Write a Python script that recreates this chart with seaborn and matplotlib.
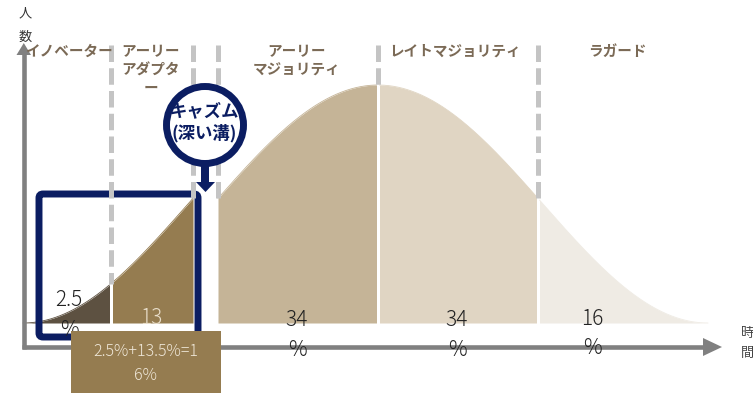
import numpy as np
import pandas as pd
import matplotlib
matplotlib.use("Agg")
import matplotlib.pyplot as plt
import seaborn as sns
from matplotlib.patches import FancyBboxPatch, Rectangle, Circle, Polygon

# ---------------- data ----------------
categories = ["イノベーター", "アーリーアダプター", "アーリーマジョリティ", "レイトマジョリティ", "ラガード"]
category_lines = ["イノベーター", "アーリー\nアダプタ\nー", "アーリー\nマジョリティ", "レイトマジョリティ", "ラガード"]
shares = [2.5, 13.5, 34, 34, 16]
share_text = ["2.5\n%", "13", "34\n%", "34\n%", "16\n%"]
seg_colors = ["#5d5141", "#957c50", "#c5b497", "#e0d5c3", "#efebe4"]
share_colors = ["#222222", "#e8ddc9", "#222222", "#222222", "#222222"]
chasm_title = "キャズム"
chasm_sub = "(深い溝)"
y_axis_label = ["人", "数"]
x_axis_label = ["時", "間"]
sum_text = f"{shares[0]:g}%+{shares[1]:g}%={shares[0] + shares[1]:g}%"

# ---------------- layout (pixel space) ----------------
W, H = 753, 393
base_y = 323
peak_h = 238
center_x = 378
half_w = 330
chasm_gap = 25
edges = [48, 136, 218, 378, 538, 708]        # segment edges before chasm shift
shifted = [True, True, False, False, False]
label_x = [69, 151, 297, 455, 617]
pct_x = [69, 151, 297, 457, 592]
pct_y = [300, 318, 320, 320, 319]

NAVY = "#0b1d62"
GRAY = "#808080"
DASH = "#c4c4c4"
LABEL = "#7b6a56"

sns.set_theme(style="white")
plt.rcParams["font.family"] = ["Noto Sans CJK JP", "DejaVu Sans"]

fig = plt.figure(figsize=(W / 100, H / 100), dpi=100)
ax = fig.add_axes([0, 0, 1, 1])


def curve_y(x):
    return base_y - peak_h * (1 + np.cos(np.pi * (x - center_x) / half_w)) / 2


# build curve table
rows = []
for i, cat in enumerate(categories):
    a, b = edges[i], edges[i + 1]
    if i == 0:
        b -= 1.5
    if i == 1:
        a += 1.5
    if i == 2:
        b -= 1.5
    if i == 3:
        a += 1.5
        b -= 1.5
    if i == 4:
        a += 1.5
    xs = np.linspace(a, b, 200)
    ys = curve_y(xs)
    off = chasm_gap if shifted[i] else 0
    for xv, yv in zip(xs - off, ys):
        rows.append({"x": xv, "y": yv, "seg": cat})
df = pd.DataFrame(rows)

for i, cat in enumerate(categories):
    d = df[df.seg == cat]
    ax.fill_between(d.x, d.y, base_y, color=seg_colors[i], lw=0, zorder=1)
sns.lineplot(data=df, x="x", y="y", hue="seg", palette=seg_colors, legend=False,
             ax=ax, lw=0.6, zorder=1.2, sort=False)
ax.set_xlim(0, W)
ax.set_ylim(H, 0)
ax.axis("off")

# dashed guide lines
dash_pts = [(edges[1] - chasm_gap, curve_y(edges[1])),
            (edges[2] - chasm_gap + 0.5, curve_y(edges[2])),
            (edges[2], curve_y(edges[2])),
            (edges[3], curve_y(edges[3])),
            (edges[4], curve_y(edges[4]))]
for xd, yd in dash_pts:
    ax.plot([xd, xd], [45, yd], color=DASH, lw=3.6, linestyle=(0, (3.3, 1.25)),
            solid_capstyle="butt", dash_capstyle="butt", zorder=3)

# navy frame around innovators + early adopters
ax.add_patch(FancyBboxPatch((39, 194), 159, 143, boxstyle="round,pad=0,rounding_size=4",
                            fc="none", ec=NAVY, lw=5, zorder=2))

# axes arrows
ax.plot([24, 24], [349, 54], color=GRAY, lw=3.3, solid_capstyle="butt", zorder=2)
ax.add_patch(Polygon([(16.5, 55), (31, 55), (23.8, 43)], closed=True, fc=GRAY, ec="none", zorder=2))
ax.plot([21.7, 704], [346.8, 346.8], color=GRAY, lw=3.3, solid_capstyle="butt", zorder=2)
ax.add_patch(Polygon([(703, 338), (722, 347), (703, 356)], closed=True, fc=GRAY, ec="none", zorder=2))
for k, ch in enumerate(y_axis_label):
    ax.text(25, 14 + 23 * k, ch, ha="center", va="center", fontsize=9.5, color="#333333", zorder=5)
for k, ch in enumerate(x_axis_label):
    ax.text(741, 334 + 19 * k, ch, ha="left", va="center", fontsize=9.5, color="#444444", zorder=5)

# category labels
for i, lab in enumerate(category_lines):
    for k, line in enumerate(lab.split("\n")):
        ax.text(label_x[i], 51 + 18.5 * k, line, ha="center", va="center", fontsize=10.5,
                fontweight="bold", color=LABEL, zorder=5)

# chasm magnifier icon
ax.add_patch(Circle((205, 125), 38.5, fc="white", ec=NAVY, lw=5, zorder=4))
ax.add_patch(Rectangle((201, 163), 8.5, 20, fc=NAVY, ec="none", zorder=4))
ax.add_patch(Polygon([(196, 182), (215, 182), (205.5, 192)], closed=True, fc=NAVY, ec="none", zorder=4))
ax.text(204, 111, chasm_title, ha="center", va="center", fontsize=12.5, fontweight="bold",
        color=NAVY, zorder=5)
ax.text(204, 133, chasm_sub, ha="center", va="center", fontsize=12.5, fontweight="bold",
        color=NAVY, zorder=5)

# share labels
for i, txt in enumerate(share_text):
    for k, line in enumerate(txt.split("\n")):
        ax.text(pct_x[i], pct_y[i] + 29.5 * k, line, ha="center", va="center", fontsize=15,
                fontweight="light", color=share_colors[i], zorder=5)

# sum box
ax.add_patch(Rectangle((71, 331), 150, 62, fc="#957c50", ec="none", zorder=6))
ax.text(146, 352, sum_text[:12], ha="center", va="center", fontsize=11.5, fontweight="light",
        color="#efe7d8", zorder=7)
ax.text(146, 376, sum_text[12:], ha="center", va="center", fontsize=11.5, fontweight="light",
        color="#efe7d8", zorder=7)

fig.savefig("out.png", dpi=100)
